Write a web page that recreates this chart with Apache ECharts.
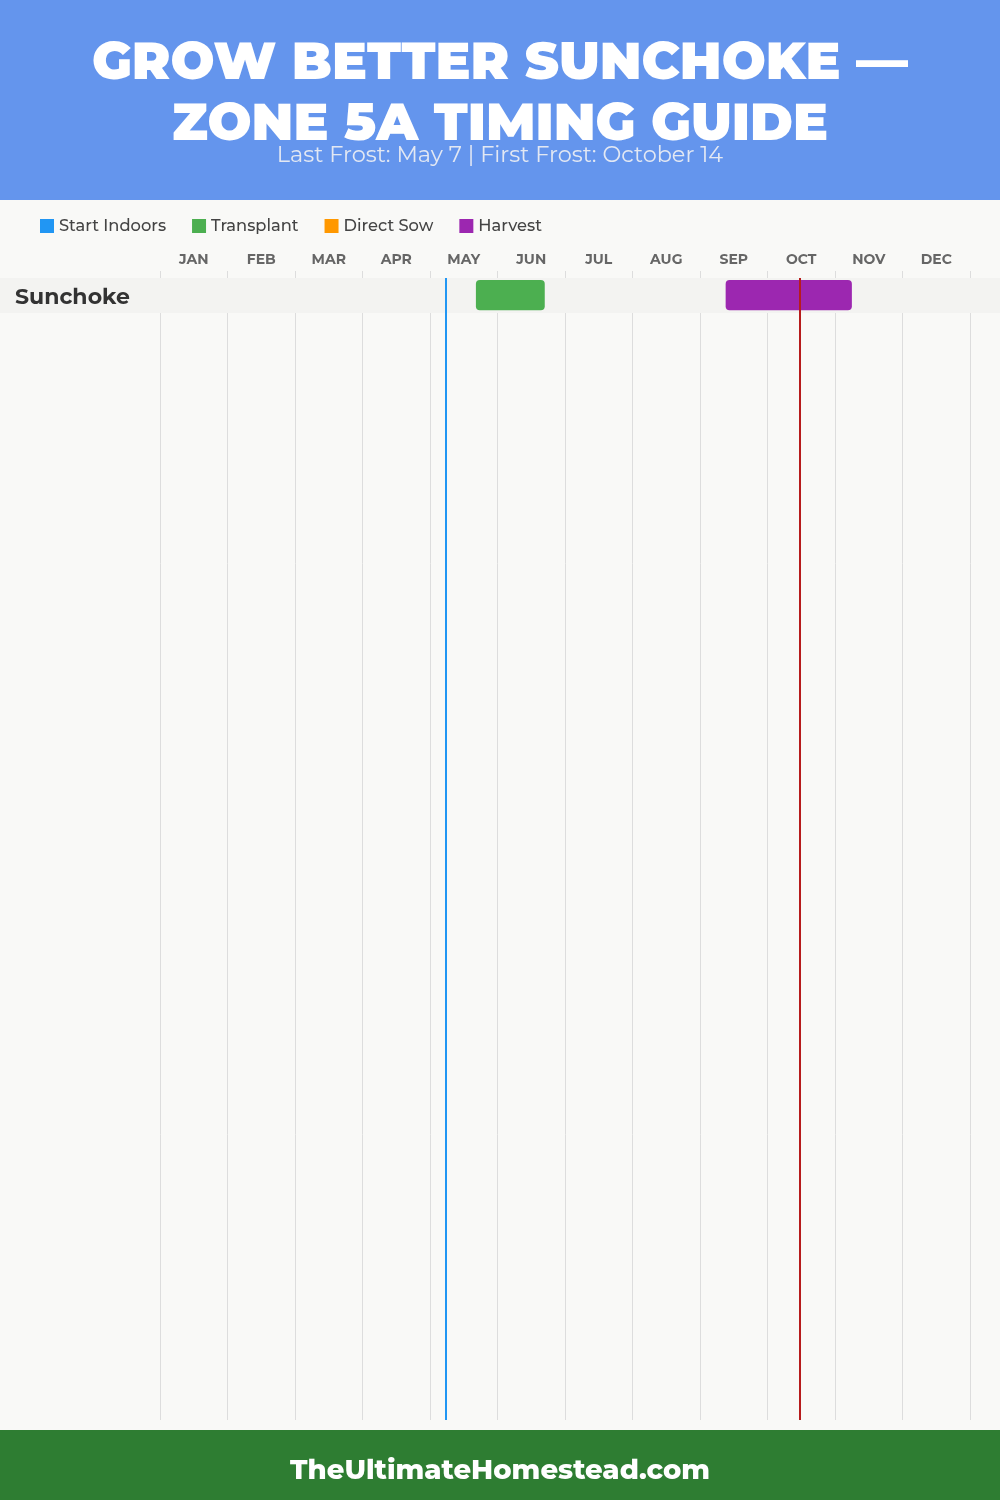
<!DOCTYPE html>
<html><head><meta charset="utf-8">
<script src="https://cdn.jsdelivr.net/npm/echarts@6/dist/echarts.min.js"></script>
<style>html,body{margin:0;padding:0;background:#f9f9f7}#c{width:1000px;height:1500px}</style>
</head><body><div id="c"></div>
<script>
const months = ['JAN','FEB','MAR','APR','MAY','JUN','JUL','AUG','SEP','OCT','NOV','DEC'];
const crops = ['Sunchoke'];
// [cropIndex, startMonth, endMonth] in months from Jan 1
const startIndoors = [];
const transplant = [[0, 4.68, 5.70]];
const directSow = [];
const harvest = [[0, 8.38, 10.25]];
const lastFrost = 4.23;   // May 7
const firstFrost = 9.48;  // Oct 14
const rowSlots = 32.63;
const titleLines = ['GROW BETTER SUNCHOKE —', 'ZONE 5A TIMING GUIDE'];
const subtitle = 'Last Frost: May 7 | First Frost: October 14';
const footer = 'TheUltimateHomestead.com';

const COLORS = {si:'#2196F3', tp:'#4CAF50', ds:'#FF9800', hv:'#9C27B0'};
const FONT = 'Montserrat, Inter, "Noto Sans", sans-serif';

const chart = echarts.init(document.getElementById('c'), null, {renderer:'canvas'});

function barItem(params, api){
  const row = api.value(0), s = api.value(1), e = api.value(2);
  const p0 = api.coord([s, row + 0.06]);
  const p1 = api.coord([e, row + 0.92]);
  return {type:'rect', shape:{x:p0[0], y:p0[1], width:p1[0]-p0[0], height:p1[1]-p0[1], r:4},
    style:{fill: api.visual('color')}};
}
function bandItem(params, api){
  const row = api.value(0);
  const p0 = api.coord([0, row]);
  const p1 = api.coord([0, row + 1]);
  return {type:'group', children:[
    {type:'rect', shape:{x:0, y:p0[1], width:api.getWidth(), height:p1[1]-p0[1]}, style:{fill:'#f3f3f1'}},
    {type:'text', style:{text: crops[row], x:15, y:(p0[1]+p1[1])/2 + 2, verticalAlign:'middle', align:'left',
      font:'bold 22px ' + FONT, fill:'#333'}}
  ]};
}
function barSeries(name, data, color){
  return {type:'custom', name, renderItem: barItem, data, color, xAxisIndex:1, yAxisIndex:0, z:3,
    encode:{x:[1,2], y:0}};
}

chart.setOption({
  backgroundColor:'#f9f9f7',
  animation:false,
  graphic:[
    {type:'rect', shape:{x:0,y:0,width:1000,height:200}, style:{fill:'#6495ED'}, z:-1},
    {type:'rect', shape:{x:0,y:1430,width:1000,height:70}, style:{fill:'#2E7D32'}, z:-1},
    {type:'text', x:500, y:64, z:10, style:{text:titleLines[0], align:'center', verticalAlign:'middle',
      fill:'#fff', font:'900 52px ' + FONT}},
    {type:'text', x:500, y:125, z:10, style:{text:titleLines[1], align:'center', verticalAlign:'middle',
      fill:'#fff', font:'900 52px ' + FONT}},
    {type:'text', x:500, y:155, z:11, style:{text:subtitle, align:'center', verticalAlign:'middle',
      fill:'#e3e8f3', font:'400 22.4px ' + FONT}},
    {type:'text', x:500, y:1471, z:10, style:{text:footer, align:'center', verticalAlign:'middle',
      fill:'#fff', font:'800 27.5px ' + FONT}}
  ],
  legend:{top:218, left:40, padding:0, itemWidth:14, itemHeight:14, itemGap:26, icon:'rect',
    textStyle:{color:'#444', fontFamily:FONT, fontSize:16.3, fontWeight:500},
    data:['Start Indoors','Transplant','Direct Sow','Harvest']},
  grid:{left:160, right:30, top:278, bottom:80},
  xAxis:[
    {type:'category', data:months, position:'top', boundaryGap:true,
     axisLine:{show:false}, axisTick:{show:true, length:7, lineStyle:{color:'#dddddd'}},
     axisLabel:{color:'#666', fontFamily:FONT, fontWeight:'bold', fontSize:14, margin:11},
     splitLine:{show:true, lineStyle:{color:'#dddddd', width:1}}},
    {type:'value', min:0, max:12, show:false}
  ],
  yAxis:[{type:'value', inverse:true, min:0, max:rowSlots, show:false, splitLine:{show:false}}],
  series:[
    {type:'custom', name:'rows', renderItem: bandItem, data: crops.map((c,i)=>[i]), xAxisIndex:1, z:1,
     encode:{y:0}, legendHoverLink:false},
    barSeries('Start Indoors', startIndoors, COLORS.si),
    barSeries('Transplant', transplant, COLORS.tp),
    barSeries('Direct Sow', directSow, COLORS.ds),
    barSeries('Harvest', harvest, COLORS.hv),
    {type:'line', name:'frost', xAxisIndex:1, data:[], z:5,
     markLine:{symbol:'none', silent:true, label:{show:false},
       data:[{xAxis:lastFrost, lineStyle:{color:'#2196F3', width:2, type:'solid'}},
             {xAxis:firstFrost, lineStyle:{color:'#B71C1C', width:2, type:'solid'}}]}}
  ]
});
</script></body></html>
